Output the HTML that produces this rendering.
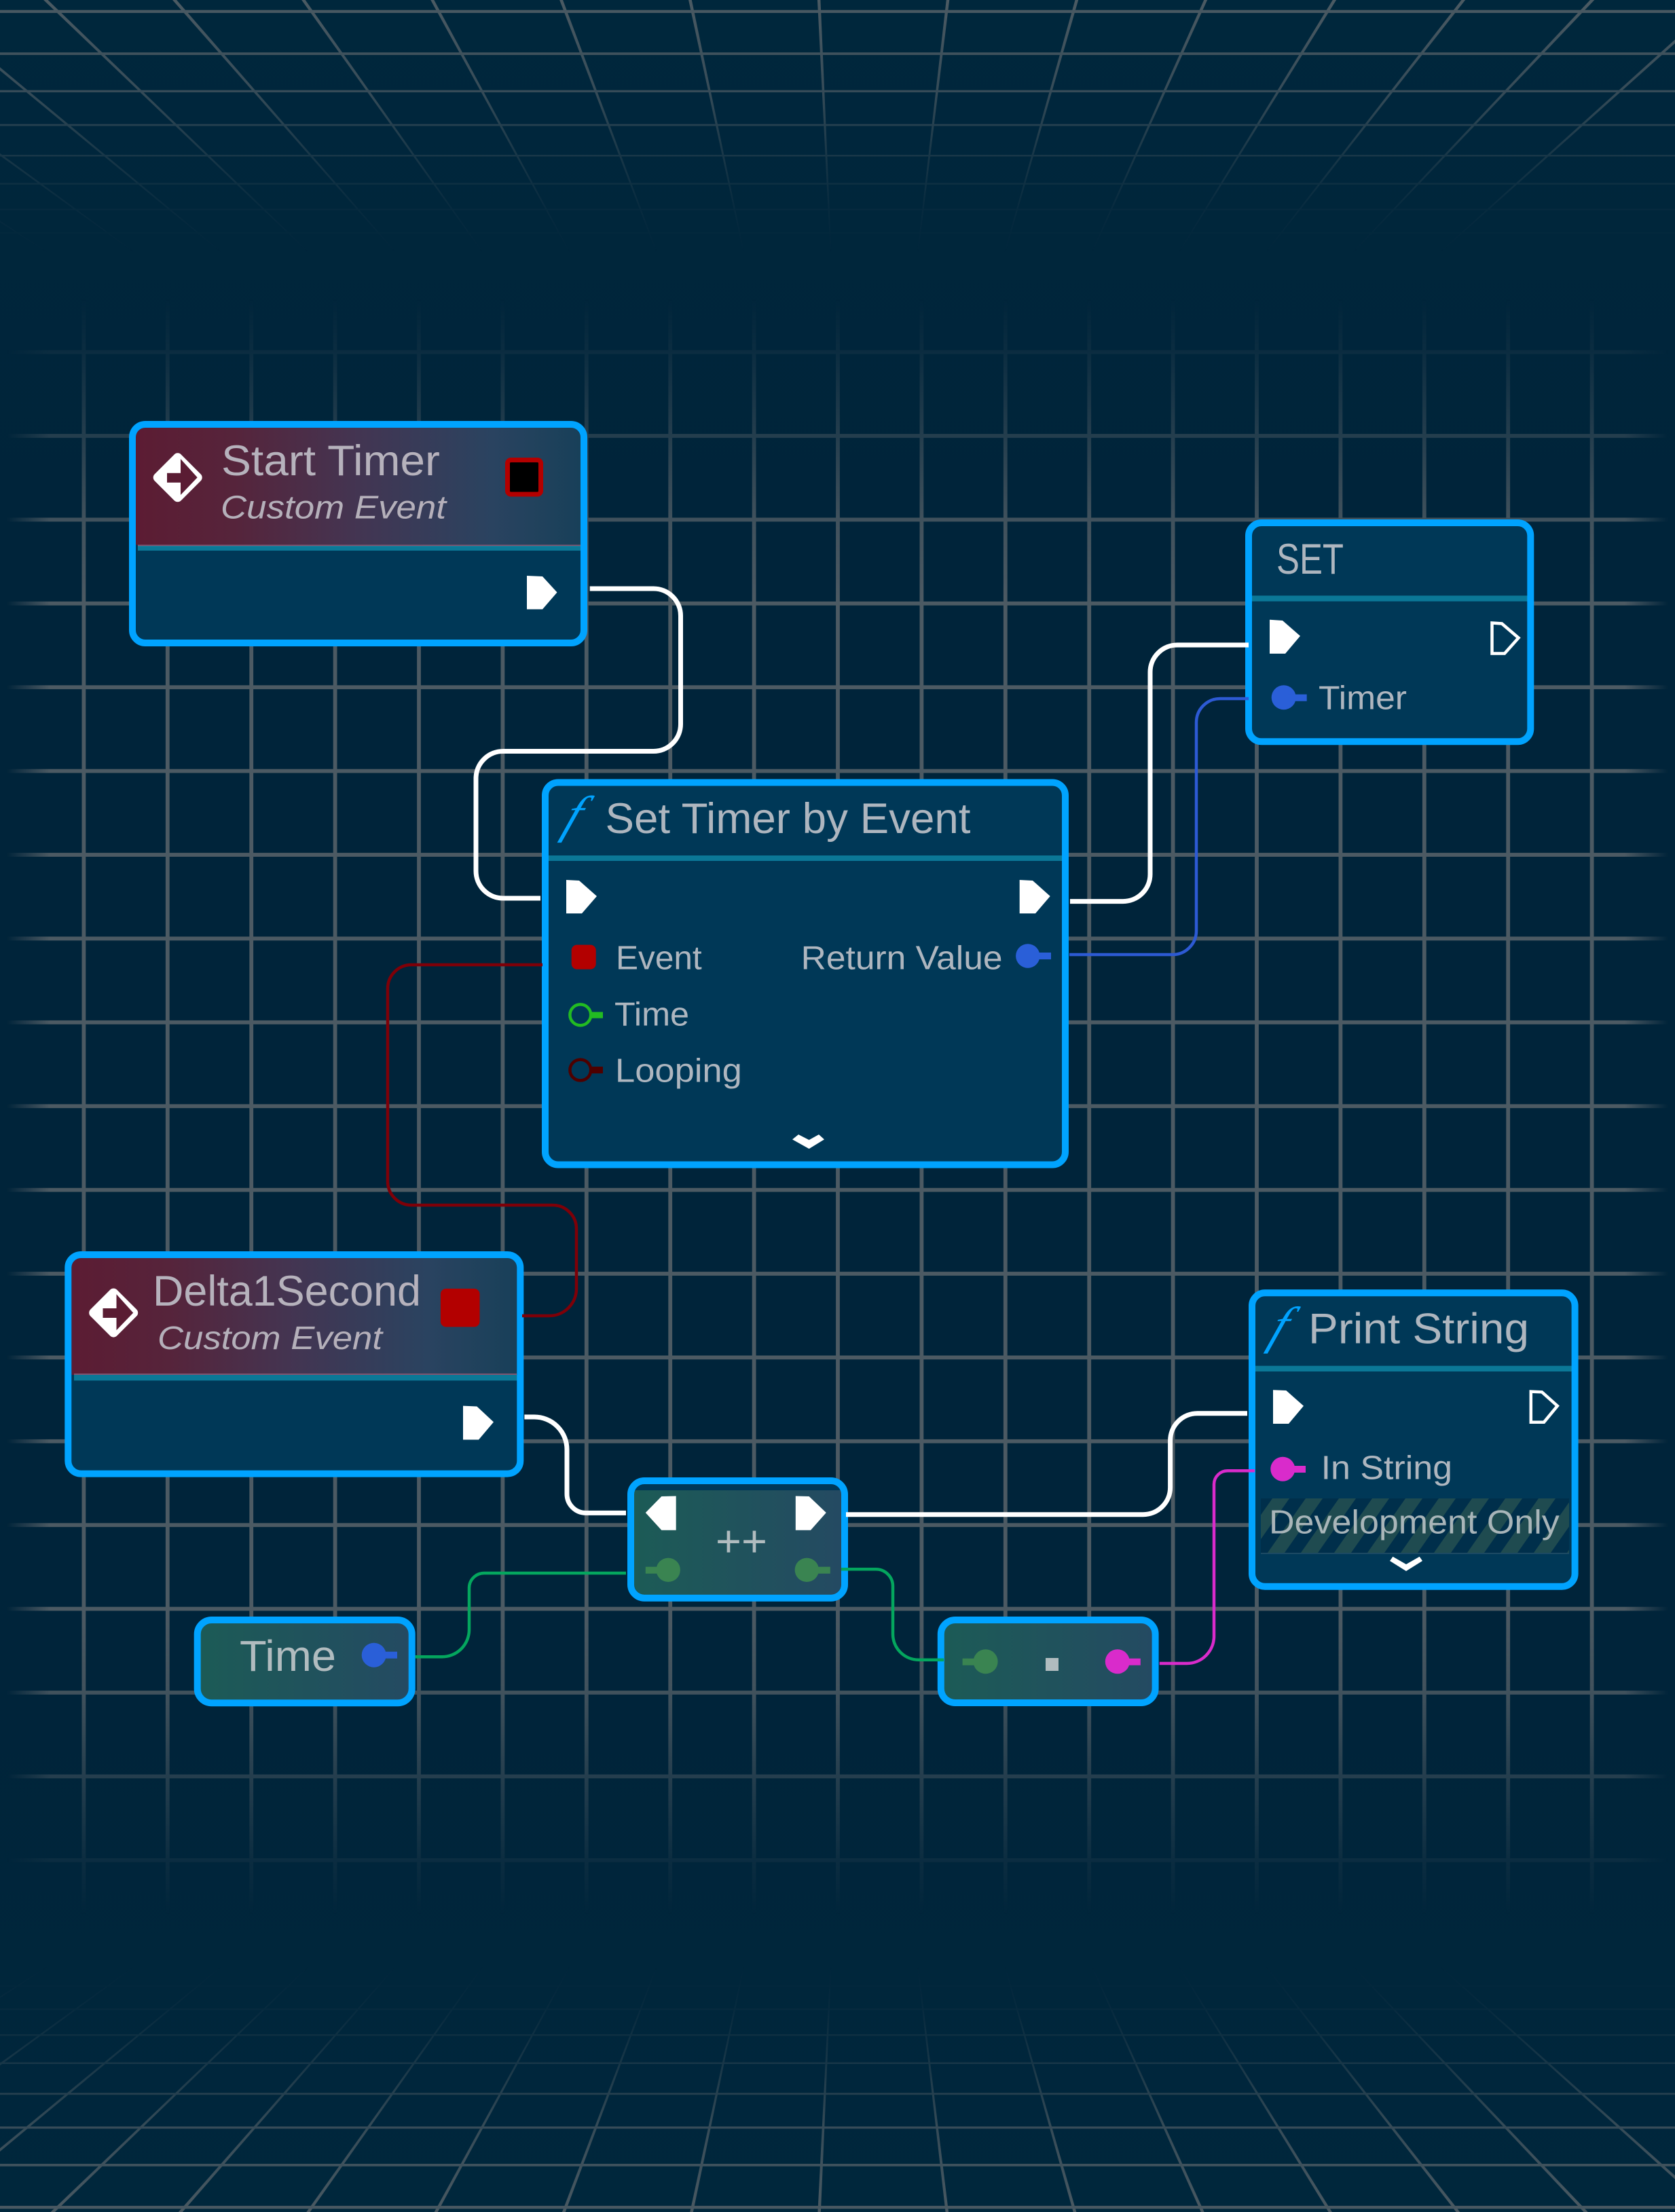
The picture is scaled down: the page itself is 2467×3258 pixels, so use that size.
<!DOCTYPE html>
<html><head><meta charset="utf-8"><title>Blueprint</title>
<style>
html,body{margin:0;padding:0;background:#00253a;width:2467px;height:3258px;overflow:hidden}
svg{display:block}
text{font-family:"Liberation Sans",sans-serif;}
.t{fill:#aeb6bf;font-size:63px}
.p{fill:#aeb6bf;font-size:49px}
.h{fill:#b6b2bc;font-size:63px}
.c{fill:#b5b0ba;font-size:48px;font-style:italic}
.f{fill:#00a3ff;font-size:76px;font-style:italic;font-family:"Liberation Serif",serif}
.g{fill:#b1bcbf}
.b{fill:none;stroke:#00a3ff;stroke-width:10}
.w{fill:none;stroke:#fff;stroke-width:7}
.n{fill:none;stroke-width:4.5}
.d{fill:rgb(24,200,230);fill-opacity:.45}
</style></head><body>
<svg xmlns="http://www.w3.org/2000/svg" width="2467" height="3258" viewBox="0 0 2467 3258">
<defs>
<linearGradient id="bg" x1="0" y1="0" x2="0" y2="1">
<stop offset="0" stop-color="#00273c"/><stop offset=".25" stop-color="#00243a"/><stop offset=".75" stop-color="#00243a"/><stop offset="1" stop-color="#00273c"/>
</linearGradient>
<linearGradient id="hd" x1="0" y1="0" x2="1" y2="0">
<stop offset="0" stop-color="#5c1c33"/><stop offset=".22" stop-color="#56243b"/><stop offset=".5" stop-color="#433552"/><stop offset=".8" stop-color="#2a4360"/><stop offset="1" stop-color="#184059"/>
</linearGradient>
<linearGradient id="tl" x1="0" y1="0" x2="1" y2="0">
<stop offset="0" stop-color="#1c5b56"/><stop offset="1" stop-color="#244a62"/>
</linearGradient>
<linearGradient id="fv" gradientUnits="userSpaceOnUse" x1="0" y1="440" x2="0" y2="2820">
<stop offset="0" stop-color="#fff" stop-opacity="0"/>
<stop offset=".0332" stop-color="#fff" stop-opacity=".15"/>
<stop offset=".0853" stop-color="#fff" stop-opacity=".48"/>
<stop offset=".1374" stop-color="#fff" stop-opacity=".85"/>
<stop offset=".1891" stop-color="#fff" stop-opacity="1"/>
<stop offset=".8109" stop-color="#fff" stop-opacity="1"/>
<stop offset=".8626" stop-color="#fff" stop-opacity=".85"/>
<stop offset=".9147" stop-color="#fff" stop-opacity=".48"/>
<stop offset=".9668" stop-color="#fff" stop-opacity=".15"/>
<stop offset="1" stop-color="#fff" stop-opacity="0"/>
</linearGradient>
<linearGradient id="fh" gradientUnits="userSpaceOnUse" x1="0" y1="0" x2="2467" y2="0">
<stop offset=".004" stop-color="#fff" stop-opacity="0"/>
<stop offset=".03" stop-color="#fff" stop-opacity="1"/>
<stop offset=".97" stop-color="#fff" stop-opacity="1"/>
<stop offset=".996" stop-color="#fff" stop-opacity="0"/>
</linearGradient>
<linearGradient id="fp" gradientUnits="userSpaceOnUse" x1="0" y1="0" x2="0" y2="372">
<stop offset="0" stop-color="#fff" stop-opacity=".95"/>
<stop offset=".36" stop-color="#fff" stop-opacity=".68"/>
<stop offset=".62" stop-color="#fff" stop-opacity=".3"/>
<stop offset=".83" stop-color="#fff" stop-opacity=".09"/>
<stop offset="1" stop-color="#fff" stop-opacity="0"/>
</linearGradient>
<mask id="mv" maskUnits="userSpaceOnUse" x="0" y="0" width="2467" height="3258"><rect width="2467" height="3258" fill="url(#fv)"/></mask>
<mask id="mh" maskUnits="userSpaceOnUse" x="0" y="0" width="2467" height="3258"><rect width="2467" height="3258" fill="url(#fh)"/></mask>
<mask id="mp" maskUnits="userSpaceOnUse" x="-600" y="-20" width="3700" height="400"><rect x="-600" y="-20" width="3700" height="400" fill="url(#fp)"/></mask>
<pattern id="st" patternUnits="userSpaceOnUse" width="49" height="100" patternTransform="translate(1857 2207) skewX(-35)">
<rect x="17" y="0" width="25" height="100" fill="#1f4b50"/>
</pattern>
<clipPath id="cb"><rect x="1857" y="2207" width="454" height="82"/></clipPath>
<g id="persp" mask="url(#mp)" fill="#4f5d65">
<polygon points="-521.8,-10 -513.4,-10 72.1,372 68.7,372"/>
<polygon points="-330,-10 -322.2,-10 200,372 197,372"/>
<polygon points="-138.2,-10 -131,-10 328,372 325.2,372"/>
<polygon points="53.6,-10 60.2,-10 456.1,372 453.5,372"/>
<polygon points="245.2,-10 251.4,-10 584.1,372 581.7,372"/>
<polygon points="437,-10 442.6,-10 712.2,372 710,372"/>
<polygon points="628.7,-10 633.9,-10 840.2,372 838.2,372"/>
<polygon points="820.3,-10 825.3,-10 968.4,372 966.4,372"/>
<polygon points="1011.9,-10 1016.7,-10 1096.4,372 1094.6,372"/>
<polygon points="1203.4,-10 1208,-10 1224.6,372 1222.8,372"/>
<polygon points="1394.9,-10 1399.5,-10 1352.7,372 1350.9,372"/>
<polygon points="1586.3,-10 1591.1,-10 1480.9,372 1479.1,372"/>
<polygon points="1777.7,-10 1782.7,-10 1609.1,372 1607.1,372"/>
<polygon points="1968.9,-10 1974.3,-10 1737.3,372 1735.3,372"/>
<polygon points="2160.2,-10 2166,-10 1865.6,372 1863.2,372"/>
<polygon points="2351.4,-10 2357.8,-10 1993.9,372 1991.3,372"/>
<polygon points="2542.6,-10 2549.6,-10 2122,372 2119.4,372"/>
<rect x="0" y="14.7" width="2467" height="4.4"/>
<rect x="0" y="77.2" width="2467" height="3.8"/>
<rect x="0" y="132.7" width="2467" height="3.3"/>
<rect x="0" y="182.7" width="2467" height="2.8"/>
<rect x="0" y="228" width="2467" height="2.5"/>
<rect x="0" y="269.5" width="2467" height="2.3"/>
<rect x="0" y="307.5" width="2467" height="2.2"/>
<rect x="0" y="342" width="2467" height="2"/>
</g>
<g id="evt">
<polygon points="261.7,674.3 290.7,703.3 261.7,732.3 232.7,703.3" fill="#fff" stroke="#fff" stroke-width="14" stroke-linejoin="round"/>
<polygon points="246,696.7 266,696.7 266,676 290.7,703.3 266,729 266,710.7 246,710.7" fill="#5a1c33"/>
</g>
</defs>

<rect width="2467" height="3258" fill="url(#bg)"/>

<use href="#persp"/>
<use href="#persp" transform="translate(0 3268) scale(1 -1)"/>

<g mask="url(#mv)" fill="#4c5a63" stroke="#4c5a63" stroke-width=".8">
<g>
<rect x="120.9" y="440" width="5" height="2380"/><rect x="244.3" y="440" width="5" height="2380"/>
<rect x="367.7" y="440" width="5" height="2380"/><rect x="491.1" y="440" width="5" height="2380"/>
<rect x="614.5" y="440" width="5" height="2380"/><rect x="737.9" y="440" width="5" height="2380"/>
<rect x="861.3" y="440" width="5" height="2380"/><rect x="984.7" y="440" width="5" height="2380"/>
<rect x="1108.1" y="440" width="5" height="2380"/><rect x="1231.5" y="440" width="5" height="2380"/>
<rect x="1354.9" y="440" width="5" height="2380"/><rect x="1478.3" y="440" width="5" height="2380"/>
<rect x="1601.7" y="440" width="5" height="2380"/><rect x="1725.1" y="440" width="5" height="2380"/>
<rect x="1848.5" y="440" width="5" height="2380"/><rect x="1971.9" y="440" width="5" height="2380"/>
<rect x="2095.3" y="440" width="5" height="2380"/><rect x="2218.7" y="440" width="5" height="2380"/>
<rect x="2342.1" y="440" width="5" height="2380"/>
</g>
<g mask="url(#mh)">
<rect y="516.1" width="2467" height="5"/><rect y="639.5" width="2467" height="5"/>
<rect y="762.9" width="2467" height="5"/><rect y="886.3" width="2467" height="5"/>
<rect y="1009.7" width="2467" height="5"/><rect y="1133.1" width="2467" height="5"/>
<rect y="1256.5" width="2467" height="5"/><rect y="1379.9" width="2467" height="5"/>
<rect y="1503.3" width="2467" height="5"/><rect y="1626.7" width="2467" height="5"/>
<rect y="1750.1" width="2467" height="5"/><rect y="1873.5" width="2467" height="5"/>
<rect y="1996.9" width="2467" height="5"/><rect y="2120.3" width="2467" height="5"/>
<rect y="2243.7" width="2467" height="5"/><rect y="2367.1" width="2467" height="5"/>
<rect y="2490.5" width="2467" height="5"/><rect y="2613.9" width="2467" height="5"/>
<rect y="2737.3" width="2467" height="5"/>
</g>
</g>

<!-- Start Timer -->
<rect x="195" y="625" width="665" height="322" rx="19" fill="#003857"/>
<path d="M200 802.5V644a14 14 0 0 1 14-14H841a14 14 0 0 1 14 14V802.5Z" fill="url(#hd)"/>
<rect x="203" y="802.3" width="654" height="2" fill="#7f5570"/>
<rect class="d" x="203" y="804" width="654" height="7"/>
<rect class="b" x="195" y="625" width="665" height="322" rx="19"/>
<use href="#evt"/>
<rect x="747.5" y="677.5" width="49" height="50.5" rx="5" fill="#000" stroke="#b30000" stroke-width="7"/>
<text class="h" x="326" y="700" textLength="322" lengthAdjust="spacingAndGlyphs">Start Timer</text>
<text class="c" x="325" y="763.7" textLength="332" lengthAdjust="spacingAndGlyphs">Custom Event</text>
<polygon points="776,848 799,849 820.5,872.5 799,897.4 776,897.4" fill="#fff"/>

<!-- Set Timer by Event -->
<rect x="803" y="1152.5" width="766" height="563" rx="19" fill="#003857"/>
<rect class="d" x="801" y="1260" width="771" height="8"/>
<rect class="b" x="803" y="1152.5" width="766" height="563" rx="19"/>
<text class="f" transform="translate(826 1225) skewX(-21)">f</text>
<text class="t" x="891.5" y="1226.8" textLength="538" lengthAdjust="spacingAndGlyphs">Set Timer by Event</text>
<polygon points="834,1296 853,1297 879,1320 857,1345.4 834,1345.4" fill="#fff"/>
<polygon points="1501.7,1296 1521,1297 1546.7,1320 1525,1345.4 1501.7,1345.4" fill="#fff"/>
<rect x="841.7" y="1391.6" width="36" height="36" rx="8" fill="#b30000"/>
<text class="p" x="907" y="1427.6" textLength="126.7" lengthAdjust="spacingAndGlyphs">Event</text>
<text class="p" x="1179.7" y="1427.6" textLength="296.8" lengthAdjust="spacingAndGlyphs">Return Value</text>
<circle cx="1513.8" cy="1408" r="17.7" fill="#2a5fd8"/><rect x="1520" y="1403" width="28" height="10" fill="#2a5fd8"/>
<circle cx="854.8" cy="1494.8" r="15.4" fill="none" stroke="#22bb22" stroke-width="4.5"/><rect x="870" y="1490.5" width="18" height="9.2" fill="#22bb22"/>
<text class="p" x="905" y="1510.7" textLength="110" lengthAdjust="spacingAndGlyphs">Time</text>
<circle cx="854.8" cy="1576" r="15.4" fill="none" stroke="#4d0000" stroke-width="4.5"/><rect x="870" y="1571" width="18" height="10" fill="#4d0000"/>
<text class="p" x="906" y="1593.7" textLength="186.8" lengthAdjust="spacingAndGlyphs">Looping</text>
<polygon points="1167,1678.3 1176,1671 1191.6,1679 1206,1671 1214,1678.3 1191.6,1692" fill="#fff"/>

<!-- SET -->
<rect x="1839" y="770" width="415.3" height="322.3" rx="19" fill="#003857"/>
<rect class="d" x="1837" y="877.3" width="420" height="8.4"/>
<rect class="b" x="1839" y="770" width="415.3" height="322.3" rx="19"/>
<text class="t" x="1880" y="845" textLength="99" lengthAdjust="spacingAndGlyphs">SET</text>
<polygon points="1870,912.7 1889,914 1915,936.7 1893,962.7 1870,962.7" fill="#fff"/>
<polygon points="2197.5,917.5 2212,918.5 2236.5,939.5 2216,962.5 2197.5,962.5" fill="none" stroke="#fff" stroke-width="4.5"/>
<circle cx="1890.7" cy="1027.3" r="18" fill="#2a5fd8"/><rect x="1897" y="1022.7" width="27.7" height="10" fill="#2a5fd8"/>
<text class="p" x="1942" y="1044.3" textLength="130" lengthAdjust="spacingAndGlyphs">Timer</text>

<!-- Delta1Second -->
<rect x="100.3" y="1848" width="666" height="322.6" rx="19" fill="#003857"/>
<path d="M105.3 2025V1867a14 14 0 0 1 14-14H747.3a14 14 0 0 1 14 14V2025Z" fill="url(#hd)"/>
<rect x="109" y="2023" width="652" height="2" fill="#7f5570"/>
<rect class="d" x="109" y="2025" width="654" height="8.4"/>
<rect class="b" x="100.3" y="1848" width="666" height="322.6" rx="19"/>
<use href="#evt" transform="translate(-94.5 1230.3)"/>
<rect x="648.9" y="1898" width="57.6" height="56.4" rx="8" fill="#b30000"/>
<text class="h" x="225" y="1922.8" textLength="395" lengthAdjust="spacingAndGlyphs">Delta1Second</text>
<text class="c" x="232" y="1987" textLength="331" lengthAdjust="spacingAndGlyphs">Custom Event</text>
<polygon points="682,2070.6 702.4,2071.5 727,2094.5 705,2120.5 682,2120.5" fill="#fff"/>

<!-- ++ -->
<rect x="929" y="2181" width="315" height="172.7" rx="20" fill="#003857"/>
<path d="M934 2195H1239V2333a16 16 0 0 1-16 16H950a16 16 0 0 1-16-16Z" fill="url(#tl)"/>
<rect class="b" x="929" y="2181" width="315" height="172.7" rx="20"/>
<polygon points="950.8,2228 974.3,2204 995.7,2203.5 995.7,2253.7 974.3,2253.7" fill="#fff"/>
<polygon points="1171.8,2203.5 1191.6,2204 1216.8,2228 1194,2253.7 1171.8,2253.7" fill="#fff"/>
<text class="g" x="1054" y="2292" font-size="65">++</text>
<circle cx="984.2" cy="2312.3" r="17.7" fill="#3a8451"/><rect x="950.8" y="2307.7" width="25" height="10" fill="#3a8451"/>
<circle cx="1188.3" cy="2312.3" r="17.7" fill="#3a8451"/><rect x="1197" y="2307.7" width="25.8" height="10" fill="#3a8451"/>

<!-- Time -->
<rect x="290.7" y="2386" width="316" height="122.3" rx="21" fill="url(#tl)"/>
<rect class="b" x="290.7" y="2386" width="316" height="122.3" rx="21"/>
<text class="g" x="353" y="2461" font-size="64" textLength="142" lengthAdjust="spacingAndGlyphs">Time</text>
<circle cx="550.7" cy="2437.7" r="18" fill="#2a5fd8"/><rect x="557" y="2432.7" width="28" height="10" fill="#2a5fd8"/>

<!-- dot -->
<rect x="1385.8" y="2386" width="315.8" height="122" rx="21" fill="url(#tl)"/>
<rect class="b" x="1385.8" y="2386" width="315.8" height="122" rx="21"/>
<circle cx="1451.6" cy="2447.3" r="18" fill="#3a8451"/><rect x="1417.6" y="2442.7" width="25" height="10" fill="#3a8451"/>
<rect x="1540" y="2442" width="19" height="19" fill="#b1bcbf"/>
<circle cx="1645.8" cy="2447.3" r="18" fill="#d92bcb"/><rect x="1654" y="2442.7" width="25.8" height="10" fill="#d92bcb"/>

<!-- Print String -->
<rect x="1844" y="1904.3" width="475.6" height="432.4" rx="19" fill="#003857"/>
<rect class="d" x="1842" y="2011.7" width="480.5" height="8.3"/>
<rect x="1857" y="2207" width="454" height="82" fill="#002f4b"/>
<rect x="1857" y="2207" width="454" height="82" fill="url(#st)" clip-path="url(#cb)"/>
<rect x="1857" y="2287" width="454" height="2" fill="#1c4a64"/>
<rect class="b" x="1844" y="1904.3" width="475.6" height="432.4" rx="19"/>
<text class="f" transform="translate(1866 1977.4) skewX(-21)">f</text>
<text class="t" x="1927" y="1978.3" textLength="325" lengthAdjust="spacingAndGlyphs">Print String</text>
<polygon points="1875,2047.3 1894.3,2048 1920,2070.7 1898,2097 1875,2097" fill="#fff"/>
<polygon points="2254.8,2049.6 2271,2050.3 2293.8,2070.7 2274,2094.7 2254.8,2094.7" fill="none" stroke="#fff" stroke-width="4.5"/>
<circle cx="1889.3" cy="2163.7" r="18" fill="#d92bcb"/><rect x="1897" y="2159" width="26" height="10" fill="#d92bcb"/>
<text class="p" x="1945.6" y="2178.3" textLength="193.4" lengthAdjust="spacingAndGlyphs">In String</text>
<text class="g" x="1869" y="2258.3" font-size="49" fill-opacity=".95" textLength="427.8" lengthAdjust="spacingAndGlyphs">Development Only</text>
<polygon points="2047,2299 2051.4,2292.7 2071,2304 2090.7,2292.7 2095,2299 2071,2314" fill="#fff"/>

<!-- wires -->
<path class="w" d="M868.7 867H962.5A40 40 0 0 1 1002.5 907V1066.5A40 40 0 0 1 962.5 1106.5H741A40 40 0 0 0 701 1146.5V1283A40 40 0 0 0 741 1323H796"/>
<path class="w" d="M1576 1327.6H1654A40 40 0 0 0 1694 1287.6V990A40 40 0 0 1 1734 950H1839"/>
<path class="w" d="M772.4 2087H787A48 48 0 0 1 835 2135V2200A28 28 0 0 0 863 2228.4H922"/>
<path class="w" d="M1246 2230.7H1683.6A40 40 0 0 0 1723.6 2190.7V2121.7A40 40 0 0 1 1763.6 2081.7H1837"/>
<path class="n" stroke="#2d5ad4" d="M1575 1406H1727A35 35 0 0 0 1762 1371V1064A35 35 0 0 1 1797 1029H1839"/>
<path class="n" stroke="#7e0008" d="M799 1421H606A35 35 0 0 0 571 1456V1740A35 35 0 0 0 606 1775H814A35 35 0 0 1 849 1810V1898A40 40 0 0 1 809 1938H769"/>
<path class="n" stroke="#04a65e" d="M611.6 2440.3H651A40 40 0 0 0 691 2400V2339A22 22 0 0 1 713 2317H922"/>
<path class="n" stroke="#04a65e" d="M1239 2311.3H1290A25 25 0 0 1 1315 2336V2407A38 38 0 0 0 1353 2444.7H1390"/>
<path class="n" stroke="#d92bcb" d="M1707.8 2450H1748A40 40 0 0 0 1788 2410V2186A20 20 0 0 1 1808 2166.3H1848"/>
</svg>
</body></html>
